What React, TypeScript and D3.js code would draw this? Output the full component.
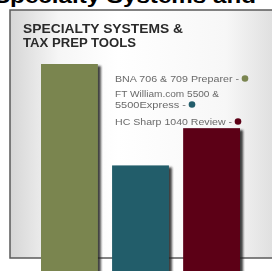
import React from "react";
import * as d3 from "d3";

const categories = ["BNA 706 & 709 Preparer", "FT William.com 5500 & 5500Express", "HC Sharp 1040 Review"];
const values = [100, 51, 69];
const colors = ["#7a8550", "#235d6b", "#5c0016"];
// legend lines, each tied to a category index (or -1 for a wrapped line without a dot)
const legendLines = ["BNA 706 & 709 Preparer -", "FT William.com 5500 &", "5500Express -", "HC Sharp 1040 Review -"];
const legendDotFor = [0, -1, 1, 2];

const width = 272;
const height = 271;

export default function App() {
  const x = d3.scaleBand().domain(categories).range([41, 240]).paddingInner(0.2).paddingOuter(0);
  const y = d3.scaleLinear().domain([0, 100]).range([271, 64]);

  const legendY = [82, 97, 108, 125];
  const legendW = [124, 104, 71, 117];

  return (
    <svg
      width={width}
      height={height}
      style={{ position: "absolute", left: 0, top: 0, display: "block", background: "#fff" }}
    >
      <defs>
        <linearGradient id="panel" x1="0" x2="1" y1="0" y2="0">
          <stop offset="0%" stopColor="#d6d6d6" />
          <stop offset="18%" stopColor="#f6f6f6" />
          <stop offset="40%" stopColor="#ffffff" />
          <stop offset="80%" stopColor="#f7f7f7" />
          <stop offset="100%" stopColor="#dcdcdc" />
        </linearGradient>
        <filter id="shadow" x="-10%" y="-10%" width="130%" height="130%">
          <feDropShadow dx="3" dy="2" stdDeviation="1.3" floodColor="#222" floodOpacity="0.85" />
        </filter>
        <filter id="soft" x="-5%" y="-20%" width="110%" height="140%">
          <feGaussianBlur stdDeviation="0.35" />
        </filter>
      </defs>

      {/* headline above the panel, cropped by the top edge as in the source */}
      <text
        x={-6}
        y={3}
        fontFamily="Liberation Sans, Arial, sans-serif"
        fontWeight="bold"
        fontSize={21}
        fill="#000"
        textLength={262}
        lengthAdjust="spacingAndGlyphs"
      >
        Specialty Systems and
      </text>

      <rect x={10} y={10} width={270} height={248} fill="url(#panel)" stroke="#5a5a5a" strokeWidth={1.5} />

      <g filter="url(#soft)">
        <text
          x={23}
          y={33}
          fontFamily="Liberation Sans, Arial, sans-serif"
          fontWeight="bold"
          fontSize={12.5}
          fill="#2a2a2a"
          textLength={160}
          lengthAdjust="spacingAndGlyphs"
        >
          SPECIALTY SYSTEMS &amp;
        </text>
        <text
          x={23}
          y={47}
          fontFamily="Liberation Sans, Arial, sans-serif"
          fontWeight="bold"
          fontSize={12.5}
          fill="#2a2a2a"
          textLength={113}
          lengthAdjust="spacingAndGlyphs"
        >
          TAX PREP TOOLS
        </text>
      </g>

      {categories.map((c, i) => (
        <rect
          key={c}
          x={x(c)}
          y={y(values[i])}
          width={x.bandwidth()}
          height={y(0) - y(values[i]) + 10}
          fill={colors[i]}
          filter="url(#shadow)"
        />
      ))}

      <g filter="url(#soft)">
        {legendLines.map((t, i) => (
          <text
            key={t}
            x={115}
            y={legendY[i]}
            fontFamily="Liberation Sans, Arial, sans-serif"
            fontSize={9.5}
            fill="#6a6a6a"
            textLength={legendW[i]}
            lengthAdjust="spacingAndGlyphs"
          >
            {t}
          </text>
        ))}
      </g>
      {legendLines.map((t, i) =>
        legendDotFor[i] >= 0 ? (
          <circle
            key={"d" + t}
            cx={115 + legendW[i] + 6}
            cy={legendY[i] - 3.5}
            r={3.3}
            fill={colors[legendDotFor[i]]}
          />
        ) : null
      )}
    </svg>
  );
}
